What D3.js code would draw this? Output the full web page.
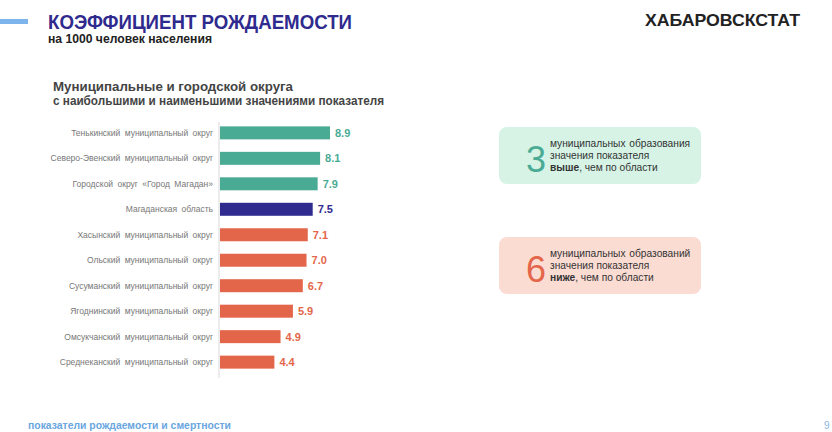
<!DOCTYPE html>
<html><head><meta charset="utf-8">
<script src="https://cdn.jsdelivr.net/npm/d3@7"></script>
<style>body{margin:0;background:#fff;}svg{display:block;font-family:Arial,"Liberation Sans",sans-serif;}</style>
</head><body><svg id="c" width="832" height="432"></svg>
<script>
const categories = ["Тенькинский муниципальный округ","Северо-Эвенский муниципальный округ","Городской округ «Город Магадан»","Магаданская область","Хасынский муниципальный округ","Ольский муниципальный округ","Сусуманский муниципальный округ","Ягоднинский муниципальный округ","Омсукчанский муниципальный округ","Среднеканский муниципальный округ"];
const values = [8.9,8.1,7.9,7.5,7.1,7.0,6.7,5.9,4.9,4.4];
const groups = ["high","high","high","region","low","low","low","low","low","low"];
const colorMap = {high:"#4aab95", region:"#2f2a8e", low:"#e4664a"};

const svg = d3.select("#c");
// header
svg.append("rect").attr("x",0).attr("y",19).attr("width",28).attr("height",5).attr("fill","#7db4ec");
svg.append("text").attr("x",48).attr("y",29).attr("font-size",20).attr("font-weight","bold").attr("fill","#2f2a8e")
  .attr("textLength",304).attr("lengthAdjust","spacingAndGlyphs").text("КОЭФФИЦИЕНТ РОЖДАЕМОСТИ");
svg.append("text").attr("x",48).attr("y",43).attr("font-size",12).attr("font-weight","bold").attr("fill","#222")
  .attr("textLength",164).attr("lengthAdjust","spacingAndGlyphs").text("на 1000 человек населения");
svg.append("text").attr("x",645).attr("y",26).attr("font-size",17).attr("font-weight","bold").attr("fill","#222")
  .attr("textLength",155).attr("lengthAdjust","spacingAndGlyphs").text("ХАБАРОВСКСТАТ");
svg.append("text").attr("x",53).attr("y",91).attr("font-size",13).attr("font-weight","bold").attr("fill","#444")
  .attr("textLength",240).attr("lengthAdjust","spacingAndGlyphs").text("Муниципальные и городской округа");
svg.append("text").attr("x",53).attr("y",105).attr("font-size",13).attr("font-weight","bold").attr("fill","#444")
  .attr("textLength",331).attr("lengthAdjust","spacingAndGlyphs").text("с наибольшими и наименьшими значениями показателя");

// chart
const x = d3.scaleLinear().domain([0,10]).range([220,220+123.6]);
const y = d3.scaleBand().domain(categories).range([120,375]).paddingInner(0.49).paddingOuter(0.25);
svg.append("line").attr("x1",219).attr("x2",219).attr("y1",122).attr("y2",378).attr("stroke","#d9d9d9").attr("stroke-width",1);
svg.selectAll("rect.bar").data(categories).join("rect").attr("class","bar")
  .attr("x",x(0)).attr("y",d=>y(d)).attr("height",y.bandwidth())
  .attr("width",(d,i)=>x(values[i])-x(0)).attr("fill",(d,i)=>colorMap[groups[i]]);
svg.selectAll("text.val").data(categories).join("text").attr("class","val")
  .attr("x",(d,i)=>x(values[i])+5).attr("y",d=>y(d)+y.bandwidth()/2+4)
  .attr("font-size",11).attr("font-weight","bold").attr("fill",(d,i)=>colorMap[groups[i]])
  .text((d,i)=>d3.format(".1f")(values[i]));
svg.selectAll("text.cat").data(categories).join("text").attr("class","cat")
  .attr("x",213).attr("y",d=>y(d)+y.bandwidth()/2+3).attr("text-anchor","end")
  .attr("font-size",8.5).attr("fill","#777").attr("word-spacing",2).text(d=>d);

// boxes
function box(yy, fill, col, num, l1, bold, rest){
  svg.append("rect").attr("x",499).attr("y",yy).attr("width",202).attr("height",57).attr("rx",8).attr("fill",fill);
  svg.append("text").attr("x",536).attr("y",yy+45).attr("text-anchor","middle").attr("font-size",36).attr("fill",col).text(num);
  svg.append("text").attr("x",550).attr("y",yy+20).attr("font-size",10.2).attr("fill","#333").attr("word-spacing",1).text(l1);
  svg.append("text").attr("x",550).attr("y",yy+32).attr("font-size",10.2).attr("fill","#333").text("значения показателя");
  const t = svg.append("text").attr("x",550).attr("y",yy+44).attr("font-size",10.2).attr("fill","#333");
  t.append("tspan").attr("font-weight","bold").text(bold);
  t.append("tspan").text(rest);
}
box(127,"#d6f3e6","#4aab95","3","муниципальных образования","выше",", чем по области");
box(237,"#fbdcd3","#e4664a","6","муниципальных образований","ниже",", чем по области");

// footer
svg.append("text").attr("x",28).attr("y",429).attr("font-size",10).attr("font-weight","bold").attr("fill","#6aa6e0")
  .attr("textLength",203).attr("lengthAdjust","spacingAndGlyphs").text("показатели рождаемости и смертности");
svg.append("text").attr("x",824).attr("y",429).attr("font-size",10).attr("fill","#8ab4e0").text("9");
</script></body></html>
